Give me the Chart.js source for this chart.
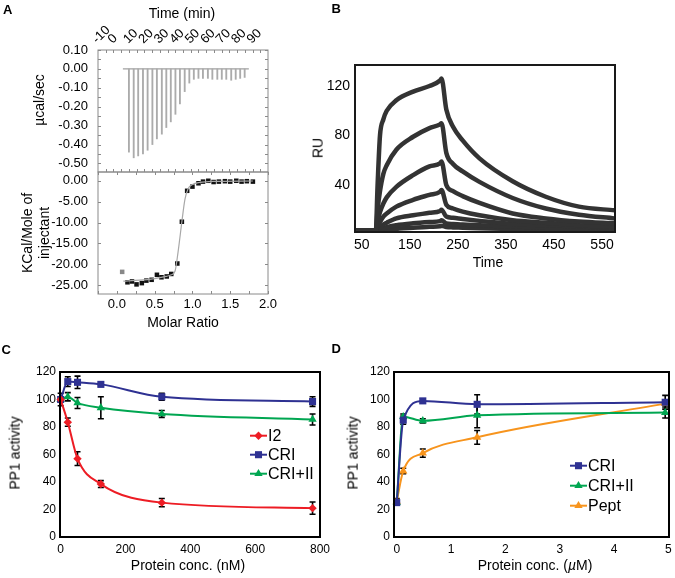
<!DOCTYPE html>
<html>
<head>
<meta charset="utf-8">
<script src="https://cdn.jsdelivr.net/npm/chart.js@4"></script>
<style>
  body { margin: 0; background: #fff; }
  #fig { position: relative; width: 675px; height: 578px; overflow: hidden; background: #fff; }
  canvas { position: absolute; }
  .tag { position: absolute; font: bold 13px "Liberation Sans", Arial, sans-serif; line-height: 1; }
  .ttl { position: absolute; font: 14px "Liberation Sans", Arial, sans-serif; line-height: 1.2;
         white-space: nowrap; text-align: center; transform: translate(-50%, -50%); }
  .rot { transform: translate(-50%, -50%) rotate(-90deg); }
</style>
</head>
<body>
<div id="fig">
  <canvas id="itcRaw" width="285" height="174" style="left:0;top:0"></canvas>
  <canvas id="itcHeat" width="285" height="175" style="left:0;top:160px"></canvas>
  <canvas id="spr" width="390" height="290" style="left:285px;top:0"></canvas>
  <canvas id="actC" width="340" height="248" style="left:0;top:330px"></canvas>
  <canvas id="actD" width="335" height="248" style="left:340px;top:330px"></canvas>

  <div class="tag" style="left:3px;top:3.4px">A</div>
  <div class="tag" style="left:331.5px;top:1.7px">B</div>
  <div class="tag" style="left:1.5px;top:343.4px">C</div>
  <div class="tag" style="left:331.5px;top:341.7px">D</div>

  <div class="ttl" style="left:182px;top:13px">Time (min)</div>
  <div class="ttl rot" style="left:39px;top:100px">µcal/sec</div>
  <div class="ttl rot" style="left:35.5px;top:233px">KCal/Mole of<br>injectant</div>
  <div class="ttl" style="left:183px;top:322px">Molar Ratio</div>
  <div class="ttl rot" style="left:318px;top:148px">RU</div>
  <div class="ttl" style="left:488px;top:262px">Time</div>
  <div class="ttl rot" style="left:15px;top:453px">PP1 activity</div>
  <div class="ttl" style="left:188px;top:565px">Protein conc. (nM)</div>
  <div class="ttl rot" style="left:353px;top:453px">PP1 activity</div>
  <div class="ttl" style="left:535px;top:565px">Protein conc. (<i>µ</i>M)</div>
</div>

<script>
// ---- A: ITC raw injections ----
const injTimes = [5.0, 8.1, 11.0, 14.1, 17.1, 20.2, 23.1, 26.3, 29.2, 32.1, 35.1, 38.0, 41.1,
                  44.1, 47.0, 50.0, 52.9, 56.1, 59.0, 62.2, 65.1, 68.0, 71.2, 74.1, 77.0, 79.9];
const injPeaks = [-0.44, -0.47, -0.46, -0.45, -0.43, -0.40, -0.37, -0.345, -0.31, -0.28, -0.24, -0.185, -0.12,
                  -0.075, -0.055, -0.05, -0.05, -0.05, -0.055, -0.055, -0.055, -0.055, -0.06, -0.055, -0.05, -0.045];
const baseStart = 1.1;
const baseEnd = 82.6;
const timeTicks = [-10, 0, 10, 20, 30, 40, 50, 60, 70, 80, 90];
const rawTicks = [0.10, 0.00, -0.10, -0.20, -0.30, -0.40, -0.50];

// ---- A: integrated heats ----
const firstRatio = 0.07;
const firstHeat = -21.8;
const ratioX = [0.14, 0.20, 0.26, 0.33, 0.39, 0.46, 0.53, 0.59, 0.66, 0.72, 0.80, 0.86, 0.93,
                1.00, 1.08, 1.14, 1.21, 1.28, 1.35, 1.43, 1.50, 1.58, 1.65, 1.72, 1.80];
const heat = [-24.3, -24.1, -24.8, -24.5, -23.9, -23.7, -22.5, -23.1, -22.9, -22.3, -19.8, -9.8, -2.4,
              -1.4, -0.6, -0.2, 0, -0.3, -0.2, -0.1, -0.2, 0, -0.2, -0.1, -0.2];
const fitX = [0.085, 0.3, 0.5, 0.65, 0.72, 0.77, 0.81, 0.86, 0.9, 0.94, 1.0, 1.1, 1.3, 1.8];
const fitY = [-24.0, -23.8, -23.4, -22.9, -22.5, -21.6, -17.0, -9.8, -4.5, -2.0, -0.9, -0.4, -0.15, -0.05];
const heatTicks = [0, -5, -10, -15, -20, -25];
const ratioTicks = [0.0, 0.5, 1.0, 1.5, 2.0];

// ---- B: SPR sensorgrams ----
const sprTime = [36, 76, 79, 83, 88, 95, 102, 122, 157, 191, 213, 216, 226, 240, 260, 295, 364, 433, 502, 577];
const sprRU = [
  [3, 3, 0, 40, 80, 93, 100, 108.5, 115.5, 120, 124.5, 126, 101, 87, 76, 61.5, 43, 30.5, 22.5, 19.5],
  [3, 3, 0, 20, 35, 49, 56, 68.5, 79, 86, 89, 90, 66, 57, 51, 42.5, 29.5, 21, 16, 13],
  [3, 3, 0, 10, 18, 25, 30, 38.5, 48, 55, 57.5, 59, 40, 35, 31, 25.5, 17, 13, 10.5, 9],
  [3, 3, 0, 6, 10, 14.5, 17, 22.5, 28, 32, 34.5, 36, 24, 21, 18.5, 15.5, 11.5, 9.5, 7.5, 6.5],
  [3, 3, 0, 3.5, 5.5, 8, 9.5, 13, 15.5, 17.5, 19, 20, 14.5, 13.5, 12.5, 11, 8.5, 7.5, 6.5, 5.5],
  [3, 3, 0, 2.5, 3.5, 5, 6, 7.5, 9, 10, 10.8, 11.5, 9, 8.5, 8, 7.5, 6.5, 5.5, 5, 4.5],
  [3, 3, 0, 2, 2.5, 3.5, 4, 4.5, 5.5, 6.2, 6.7, 7, 6, 5.7, 5.5, 5, 4.5, 4, 3.7, 3.5]
];
const sprTimeTicks = [50, 150, 250, 350, 450, 550];
const sprRUTicks = [40, 80, 120];

// ---- C: PP1 activity vs nM ----
const concC = [0, 22, 52, 124, 312, 777];
const i2C = [100, 83.5, 57, 38.5, 25, 21];
const i2CErr = [0, 3, 5, 2.5, 3, 4.5];
const criC = [100, 113, 112.5, 111, 102, 98.5];
const criCErr = [4.5, 3.5, 4.5, 1, 2.5, 3.5];
const criIIC = [100, 102, 97.5, 94, 89.5, 85.5];
const criIICErr = [0, 3, 4, 8, 2.5, 4];
const concCTicks = [0, 200, 400, 600, 800];

// ---- D: PP1 activity vs uM ----
const concD = [0, 0.12, 0.48, 1.48, 4.94];
const criD = [25, 85, 99, 96.5, 98];
const criDErr = [0, 3, 1.5, 7, 5];
const criIID = [25, 87.5, 84.5, 88.5, 90.5];
const criIIDErr = [0, 2, 1.5, 9, 4];
const peptD = [26, 48, 61, 72.5, 97];
const peptDErr = [2, 2, 3, 5, 0];
const concDTicks = [0, 1, 2, 3, 4, 5];
const activityTicks = [0, 20, 40, 60, 80, 100, 120];

Chart.defaults.font.family = '"Liberation Sans", Arial, Helvetica, sans-serif';
Chart.defaults.color = '#000';
Chart.defaults.animation = false;
Chart.defaults.plugins.legend.display = false;
Chart.defaults.plugins.tooltip.enabled = false;

function fixSize(px) {
  return function (scale) {
    if (scale.isHorizontal()) scale.height = px; else scale.width = px;
    scale.paddingLeft = scale.paddingRight = scale.paddingTop = scale.paddingBottom = 0;
  };
}

function axis(min, max, values, size, ticks, extra) {
  return Object.assign({
    type: 'linear', min: min, max: max,
    afterBuildTicks: function (scale) { scale.ticks = values.map(v => ({ value: v })); },
    afterFit: fixSize(size),
    grid: { display: false, drawTicks: false },
    border: { display: false },
    ticks: Object.assign({ autoSkip: false, padding: 4, font: { size: 12 } }, ticks)
  }, extra || {});
}

function pts(xs, ys) {
  return xs.map((x, i) => ({ x: x, y: ys[i] }));
}

// box round the plot area, with small inward tick marks if asked
const frame = {
  id: 'frame',
  afterDatasetsDraw(chart, args, o) {
    const { ctx, chartArea: a } = chart;
    ctx.save();
    ctx.strokeStyle = o.color;
    ctx.lineWidth = 1;
    (o.marks || []).forEach(function (m) {
      const s = chart.scales[m.axis];
      const n0 = Math.ceil(s.min / m.step - 1e-6), n1 = Math.floor(s.max / m.step + 1e-6);
      ctx.beginPath();
      for (let n = n0; n <= n1; n++) {
        const p = Math.round(s.getPixelForValue(n * m.step)) + 0.5;
        if (s.isHorizontal()) {
          ctx.moveTo(p, a.top); ctx.lineTo(p, a.top + 3);
          ctx.moveTo(p, a.bottom); ctx.lineTo(p, a.bottom - 3);
        } else {
          ctx.moveTo(a.left, p); ctx.lineTo(a.left + 3, p);
          ctx.moveTo(a.right, p); ctx.lineTo(a.right - 3, p);
        }
      }
      ctx.stroke();
    });
    ctx.lineWidth = o.width;
    ctx.strokeRect(a.left, a.top, a.right - a.left, a.bottom - a.top);
    ctx.restore();
  }
};

const errorBars = {
  id: 'errorBars',
  beforeDatasetsDraw(chart) {
    const { ctx, scales: { x, y } } = chart;
    ctx.save();
    ctx.strokeStyle = '#000';
    ctx.lineWidth = 1.6;
    chart.data.datasets.forEach(function (ds) {
      if (!ds.errors) return;
      ds.data.forEach(function (p, i) {
        const e = ds.errors[i];
        if (!e) return;
        const px = x.getPixelForValue(p.x);
        const top = y.getPixelForValue(p.y + e), bot = y.getPixelForValue(p.y - e);
        ctx.beginPath();
        ctx.moveTo(px, top); ctx.lineTo(px, bot);
        ctx.moveTo(px - 3, top); ctx.lineTo(px + 3, top);
        ctx.moveTo(px - 3, bot); ctx.lineTo(px + 3, bot);
        ctx.stroke();
      });
    });
    ctx.restore();
  }
};

function drawMark(ctx, style, x, y, r) {
  ctx.beginPath();
  if (style === 'rect') {
    const h = r * Math.SQRT1_2;
    ctx.rect(x - h, y - h, 2 * h, 2 * h);
  } else if (style === 'rectRot') {
    ctx.moveTo(x, y - r); ctx.lineTo(x + r, y); ctx.lineTo(x, y + r); ctx.lineTo(x - r, y); ctx.closePath();
  } else {
    ctx.moveTo(x, y - r); ctx.lineTo(x + r * 0.866, y + r * 0.5); ctx.lineTo(x - r * 0.866, y + r * 0.5); ctx.closePath();
  }
  ctx.fill();
}

const keyBox = {
  id: 'keyBox',
  afterDraw(chart, args, o) {
    if (o.x === undefined) return;
    const ctx = chart.ctx;
    ctx.save();
    ctx.font = '16px "Liberation Sans", Arial, sans-serif';
    ctx.textBaseline = 'middle';
    chart.data.datasets.forEach(function (ds, i) {
      const y = o.y + i * o.gap;
      ctx.strokeStyle = ds.borderColor;
      ctx.fillStyle = ds.borderColor;
      ctx.lineWidth = 2;
      ctx.beginPath(); ctx.moveTo(o.x, y); ctx.lineTo(o.x + o.len, y); ctx.stroke();
      drawMark(ctx, ds.pointStyle, o.x + o.len / 2, y, ds.pointRadius);
      ctx.fillStyle = '#000';
      ctx.fillText(ds.label, o.x + o.len + 1, y + 0.5);
    });
    ctx.restore();
  }
};

// ---------- A top: raw heat ----------
new Chart(document.getElementById('itcRaw'), {
  type: 'bar',
  data: {
    datasets: [
      { type: 'bar', data: pts(injTimes, injPeaks), backgroundColor: '#ababab',
        barThickness: 1.2, borderWidth: 0 },
      { type: 'line', data: [{ x: baseStart, y: 0 }, { x: baseEnd, y: 0 }], borderColor: '#a0a0a0',
        borderWidth: 1.2, pointRadius: 0 }
    ]
  },
  options: {
    responsive: false,
    layout: { padding: { left: 0, right: 17, top: 0, bottom: 2 } },
    scales: {
      x: axis(-10, 90, timeTicks, 50, { minRotation: 45, maxRotation: 45, padding: 3, font: { size: 13 } },
              { position: 'top' }),
      y: axis(-0.545, 0.10, rawTicks, 98, { padding: 10, font: { size: 13 }, callback: v => v.toFixed(2) })
    },
    plugins: {
      frame: { color: '#8a8a8a', width: 1, marks: [{ axis: 'x', step: 5 }, { axis: 'y', step: 0.05 }] }
    }
  },
  plugins: [frame]
});

// ---------- A bottom: integrated heats ----------
new Chart(document.getElementById('itcHeat'), {
  type: 'line',
  data: {
    datasets: [
      { data: pts(fitX, fitY), borderColor: '#a8a8a8', borderWidth: 1.2, pointRadius: 0,
        cubicInterpolationMode: 'monotone' },
      { data: [{ x: firstRatio, y: firstHeat }], showLine: false, pointStyle: 'rect', pointRadius: 3.2,
        backgroundColor: '#888', borderWidth: 0 },
      { data: pts(ratioX, heat), showLine: false, pointStyle: 'rect', pointRadius: 3.2,
        backgroundColor: '#111', borderWidth: 0 }
    ]
  },
  options: {
    responsive: false,
    layout: { padding: { left: 0, right: 17, top: 12, bottom: 0 } },
    scales: {
      x: axis(-0.25, 2.0, ratioTicks, 41, { padding: 3, font: { size: 13 }, callback: v => v.toFixed(1) }),
      y: axis(-27.1, 2.1, heatTicks, 98, { padding: 10, font: { size: 13 }, callback: v => v.toFixed(2) })
    },
    plugins: {
      frame: { color: '#8a8a8a', width: 1, marks: [{ axis: 'x', step: 0.25 }, { axis: 'y', step: 5 }] }
    }
  },
  plugins: [frame]
});

// ---------- B: SPR ----------
new Chart(document.getElementById('spr'), {
  type: 'line',
  data: {
    datasets: sprRU.map(curve => ({
      data: pts(sprTime, curve), borderColor: '#333', borderWidth: 4.5, pointRadius: 0,
      cubicInterpolationMode: 'monotone', borderCapStyle: 'round', borderJoinStyle: 'round'
    }))
  },
  options: {
    responsive: false,
    layout: { padding: { left: 0, right: 60, top: 65, bottom: 0 } },
    scales: {
      x: axis(36, 577, sprTimeTicks, 58, { padding: 5, font: { size: 14 } }),
      y: axis(2, 137, sprRUTicks, 70, { padding: 5, font: { size: 14 } })
    },
    plugins: { frame: { color: '#1a1a1a', width: 2 } }
  },
  plugins: [frame]
});

// ---------- C ----------
function series(label, color, style, radius, xs, ys, errs) {
  return {
    label: label, data: pts(xs, ys), errors: errs, borderColor: color, backgroundColor: color,
    borderWidth: 2, pointStyle: style, pointRadius: radius, pointBorderWidth: 0,
    cubicInterpolationMode: 'monotone', clip: 8
  };
}

new Chart(document.getElementById('actC'), {
  type: 'line',
  data: {
    datasets: [
      series('I2', '#ed1c24', 'rectRot', 4.2, concC, i2C, i2CErr),
      series('CRI', '#2e3192', 'rect', 5, concC, criC, criCErr),
      series('CRI+II', '#00a651', 'triangle', 4.8, concC, criIIC, criIICErr)
    ]
  },
  options: {
    responsive: false,
    layout: { padding: { left: 0, right: 20, top: 42, bottom: 0 } },
    scales: {
      x: axis(-2, 800, concCTicks, 41, { padding: 5 }),
      y: axis(0, 120, activityTicks, 60, { padding: 4 })
    },
    plugins: {
      frame: { color: '#000', width: 2 },
      keyBox: { x: 250, y: 105.7, gap: 19, len: 17 }
    }
  },
  plugins: [errorBars, frame, keyBox]
});

// ---------- D ----------
new Chart(document.getElementById('actD'), {
  type: 'line',
  data: {
    datasets: [
      series('CRI', '#2e3192', 'rect', 5, concD, criD, criDErr),
      series('CRI+II', '#00a651', 'triangle', 4.8, concD, criIID, criIIDErr),
      series('Pept', '#f7941d', 'triangle', 4.8, concD, peptD, peptDErr)
    ]
  },
  options: {
    responsive: false,
    layout: { padding: { left: 0, right: 6, top: 42, bottom: 0 } },
    scales: {
      x: axis(-0.05, 5.01, concDTicks, 41, { padding: 5 }),
      y: axis(0, 120, activityTicks, 54, { padding: 4 })
    },
    plugins: {
      frame: { color: '#000', width: 2 },
      keyBox: { x: 230, y: 135.7, gap: 20, len: 17 }
    }
  },
  plugins: [errorBars, frame, keyBox]
});
</script>
</body>
</html>
